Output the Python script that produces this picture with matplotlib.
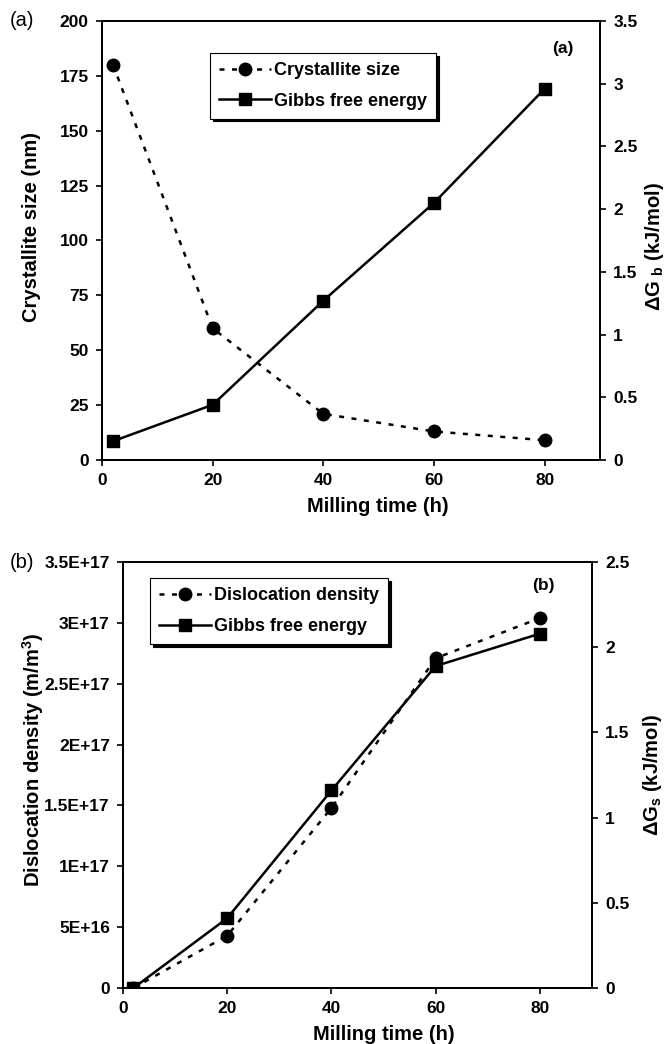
import matplotlib
matplotlib.use('Agg')
import matplotlib.pyplot as plt

plt.rcParams['font.family'] = ['Liberation Sans', 'DejaVu Sans']
plt.rcParams['font.weight'] = 'bold'
plt.rcParams['mathtext.fontset'] = 'custom'
plt.rcParams['mathtext.rm'] = 'Liberation Sans:bold'
plt.rcParams['mathtext.bf'] = 'Liberation Sans:bold'
plt.rcParams['mathtext.default'] = 'rm'

# panel (a)
time_a = [2, 20, 40, 60, 80]
crystallite_size = [180, 60, 21, 13, 9]
gibbs_a = [0.15, 0.44, 1.27, 2.05, 2.96]

# panel (b)
time_b = [2, 20, 40, 60, 80]
dislocation_density = [0, 4.3e16, 1.48e17, 2.71e17, 3.04e17]
gibbs_b = [0, 0.41, 1.16, 1.89, 2.08]

yticks_b = [0, 5e16, 1e17, 1.5e17, 2e17, 2.5e17, 3e17, 3.5e17]
yticklabels_b = ['0', '5E+16', '1E+17', '1.5E+17', '2E+17', '2.5E+17', '3E+17', '3.5E+17']

dash = (0, (2.0, 3.0))
lw = 1.8
tick_fs = 12.5
label_fs = 14.5
legend_fs = 13


def style(ax):
    ax.tick_params(direction='out', length=4.5, width=1.2, labelsize=tick_fs, pad=5)
    for s in ax.spines.values():
        s.set_linewidth(1.3)


def add_legend(ax, handles, anchor):
    leg = ax.legend(handles=handles, loc='upper left', bbox_to_anchor=anchor,
                    borderaxespad=0, fontsize=legend_fs, frameon=True, fancybox=False,
                    edgecolor='black', framealpha=1,
                    shadow={'color': 'black', 'alpha': 1}, handlelength=2.9,
                    borderpad=0.5, labelspacing=0.75, handletextpad=0.15)
    leg.get_frame().set_linewidth(0.8)
    return leg


fig = plt.figure(figsize=(6.71, 10.44), dpi=100)

# ---- (a)
ax1 = fig.add_axes([0.1520, 0.5594, 0.7422, 0.4205])
ax1r = ax1.twinx()
l1, = ax1.plot(time_a, crystallite_size, linestyle=dash, lw=lw, color='black',
               marker='o', markersize=9, label='Crystallite size')
l2, = ax1r.plot(time_a, gibbs_a, linestyle='-', lw=lw, color='black',
                marker='s', markersize=8.5, label='Gibbs free energy')
ax1.set_xlim(0, 90)
ax1.set_ylim(0, 200)
ax1.set_yticks(range(0, 201, 25))
ax1.set_xticks(range(0, 81, 20))
ax1r.set_ylim(0, 3.5)
ax1r.set_yticks([0, 0.5, 1, 1.5, 2, 2.5, 3, 3.5])
ax1r.set_yticklabels(['0', '0.5', '1', '1.5', '2', '2.5', '3', '3.5'])
ax1.set_xlabel('Milling time (h)', fontsize=label_fs, fontweight='bold')
ax1.set_ylabel('Crystallite size (nm)', fontsize=label_fs, fontweight='bold')
ax1r.set_ylabel(r'ΔG $_{b}$ (kJ/mol)', fontsize=label_fs, fontweight='bold')
ax1.xaxis.set_label_coords(0.554, -0.107)
ax1.yaxis.set_label_coords(-0.1406, 0.531)
ax1r.yaxis.set_label_coords(1.110, 0.487)
for lab in (ax1.xaxis.label, ax1.yaxis.label, ax1r.yaxis.label):
    lab.set_verticalalignment('center')
style(ax1)
style(ax1r)
add_legend(ax1, [l1, l2], (0.217, 0.927))
ax1.text(0.926, 0.938, '(a)', transform=ax1.transAxes, fontsize=12.5,
         fontweight='bold', ha='center', va='center')
fig.text(0.015, 0.980, '(a)', fontsize=14.5, fontweight='normal', va='center', ha='left')

# ---- (b)
ax2 = fig.add_axes([0.1833, 0.0536, 0.6990, 0.4080])
ax2r = ax2.twinx()
m1, = ax2.plot(time_b, dislocation_density, linestyle=dash, lw=lw, color='black',
               marker='o', markersize=9, label='Dislocation density')
m2, = ax2r.plot(time_b, gibbs_b, linestyle='-', lw=lw, color='black',
                marker='s', markersize=8.5, label='Gibbs free energy')
ax2.set_xlim(0, 90)
ax2.set_ylim(0, 3.5e17)
ax2.set_yticks(yticks_b)
ax2.set_yticklabels(yticklabels_b)
ax2.set_xticks(range(0, 81, 20))
ax2r.set_ylim(0, 2.5)
ax2r.set_yticks([0, 0.5, 1, 1.5, 2, 2.5])
ax2r.set_yticklabels(['0', '0.5', '1', '1.5', '2', '2.5'])
ax2.set_xlabel('Milling time (h)', fontsize=label_fs, fontweight='bold')
ax2.set_ylabel(r'Dislocation density (m/m$^{3}$)', fontsize=label_fs, fontweight='bold')
ax2r.set_ylabel(r'ΔG$_{s}$ (kJ/mol)', fontsize=label_fs, fontweight='bold')
ax2.xaxis.set_label_coords(0.556, -0.110)
ax2.yaxis.set_label_coords(-0.192, 0.535)
ax2r.yaxis.set_label_coords(1.130, 0.5)
for lab in (ax2.xaxis.label, ax2.yaxis.label, ax2r.yaxis.label):
    lab.set_verticalalignment('center')
style(ax2)
style(ax2r)
add_legend(ax2, [m1, m2], (0.0576, 0.962))
ax2.text(0.896, 0.946, '(b)', transform=ax2.transAxes, fontsize=12.5,
         fontweight='bold', ha='center', va='center')
fig.text(0.015, 1 - 563 / 1044, '(b)', fontsize=14.5, fontweight='normal', va='center', ha='left')

fig.savefig('out.png', dpi=100)
